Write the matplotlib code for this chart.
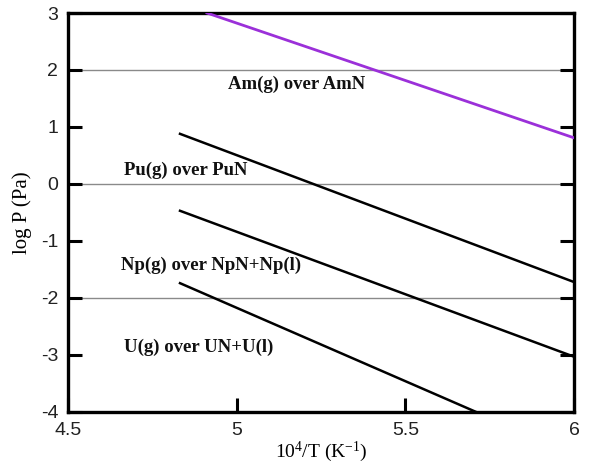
import matplotlib
matplotlib.use('Agg')
import matplotlib.pyplot as plt
import numpy as np

plt.rcParams['mathtext.fontset'] = 'custom'
plt.rcParams['mathtext.rm'] = 'Liberation Serif'
plt.rcParams['mathtext.it'] = 'Liberation Serif:italic'

# line end points: (1e4/T, log P)
am_x = [4.912, 6.0]
am_y = [3.0, 0.81]
pu_x = [4.832, 6.0]
pu_y = [0.88, -1.72]
np_x = [4.832, 6.0]
np_y = [-0.47, -3.03]
u_x = [4.832, 5.71]
u_y = [-1.74, -4.0]

ref_levels = [2, 0, -2]

labels = ['Am(g) over AmN', 'Pu(g) over PuN', 'Np(g) over NpN+Np(l)', 'U(g) over UN+U(l)']
label_x = [4.975, 4.666, 4.657, 4.666]
label_y = [1.74, 0.245, -1.42, -2.86]

x_ticks = [4.5, 5, 5.5, 6]
y_ticks = [3, 2, 1, 0, -1, -2, -3, -4]

fig = plt.figure(figsize=(5.9, 4.66), dpi=100)
ax = fig.add_axes([0.1153, 0.1159, 0.8576, 0.8562])

for lv in ref_levels:
    ax.axhline(lv, color='#8a8a8a', lw=1.0, zorder=1)

ax.plot(am_x, am_y, color='#9b30d9', lw=2.0, zorder=3)
ax.plot(pu_x, pu_y, color='black', lw=1.8, zorder=3)
ax.plot(np_x, np_y, color='black', lw=1.8, zorder=3)
ax.plot(u_x, u_y, color='black', lw=1.8, zorder=3)

for t, xx, yy in zip(labels, label_x, label_y):
    ax.text(xx, yy, t, family='Liberation Serif', fontweight='bold',
            fontsize=13.5, ha='left', va='center', color='#111111')

ax.set_xlim(4.5, 6)
ax.set_ylim(-4, 3)
ax.set_xticks(x_ticks)
ax.set_xticklabels(['4.5', '5', '5.5', '6'])
ax.set_yticks(y_ticks)
ax.set_yticklabels([str(v) for v in y_ticks])

ax.tick_params(direction='in', length=10, width=2.2, labelsize=14,
               top=False, right=True, labelright=False, pad=7,
               labelcolor='#222222')
for lab in ax.get_xticklabels() + ax.get_yticklabels():
    lab.set_family('Liberation Sans')

for sp in ax.spines.values():
    sp.set_linewidth(2.4)

ax.set_xlabel('10$^{4}$/T (K$^{-1}$)', family='Liberation Serif', fontsize=14, labelpad=1)
ax.set_ylabel('log P (Pa)', family='Liberation Serif', fontsize=15, labelpad=6)

fig.savefig('out.png', dpi=100)
